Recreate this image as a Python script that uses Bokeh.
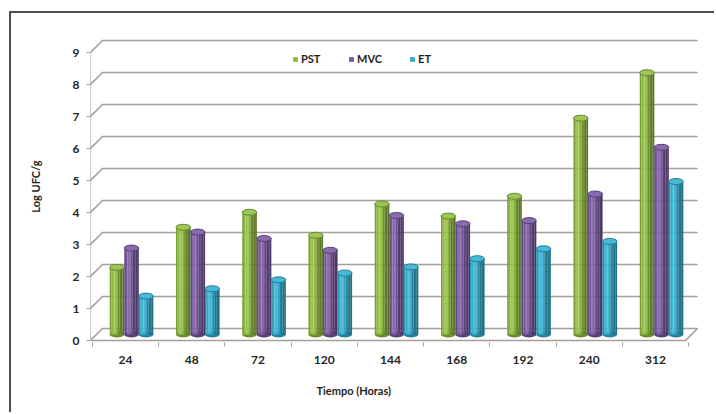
import math

from bokeh.plotting import figure
from bokeh.models import Range1d, FixedTicker, Legend, LegendItem, Title
from bokeh.embed import file_html
from bokeh.resources import INLINE

# ---- data -------------------------------------------------------------
categories = ["24", "48", "72", "120", "144", "168", "192", "240", "312"]
pst = [2.1, 3.35, 3.82, 3.1, 4.08, 3.7, 4.32, 6.76, 8.18]
mvc = [2.7, 3.2, 3.0, 2.63, 3.72, 3.46, 3.56, 4.39, 5.85]
et = [1.2, 1.43, 1.71, 1.92, 2.11, 2.37, 2.68, 2.91, 4.78]
series_names = ["PST", "MVC", "ET"]
y_ticks = [0, 1, 2, 3, 4, 5, 6, 7, 8, 9]

series_values = [pst, mvc, et]
series_rgb = [(148, 192, 66), (124, 91, 164), (52, 178, 212)]

FONT = "Lato"
GRID = "#a49f9b"

# ---- geometry of the pseudo-3D box (data units) ------------------------
PX_X = 66.25          # pixels per category step
PX_Y = 32.0           # pixels per log unit
DX = 12 / PX_X        # depth shift to the back wall, x
DY = 12 / PX_Y        # depth shift to the back wall, y
BAR_DX = DX / 2       # bars stand half-way into the box
BAR_DY = DY / 2
BAR_W = 14.5 / PX_X
ELL_H = 6 / PX_Y

n_cat = len(categories)
wall_x = -35 / PX_X               # front edge of the left wall
right_front = 560 / PX_X          # front right corner of the floor
right_back = right_front + DX


def shade(rgb, f):
    if f <= 1:
        return "#%02x%02x%02x" % tuple(int(c * f) for c in rgb)
    k = f - 1
    return "#%02x%02x%02x" % tuple(int(c + (255 - c) * k) for c in rgb)


p = figure(
    width=705, height=401,
    x_range=Range1d(-35 / PX_X, 581 / PX_X),
    y_range=Range1d(-2 / PX_Y, 310 / PX_Y),
    min_border_left=79, min_border_right=10,
    min_border_top=17, min_border_bottom=72,
    toolbar_location=None, output_backend="svg",
)
p.styles = {
    "margin-left": "9px", "margin-top": "11px",
    "border-left": "2px solid #4e4e4e", "border-top": "2px solid #4e4e4e",
}
p.background_fill_color = "white"
p.border_fill_color = "white"
p.outline_line_color = None
p.xgrid.visible = False
p.ygrid.visible = False

# ---- walls and floor ----------------------------------------------------
grid_xs = [[wall_x, wall_x + DX, right_back] for _ in y_ticks]
grid_ys = [[v, v + DY, v + DY] for v in y_ticks]
p.multi_line(grid_xs, grid_ys, line_color=GRID, line_width=1.6)
p.segment(x0=[wall_x], y0=[0], x1=[wall_x], y1=[max(y_ticks)],
          line_color=GRID, line_width=1.2)
p.line([wall_x, right_front, right_back], [0, 0, DY],
       line_color=GRID, line_width=1.6)

# ---- cylinders -----------------------------------------------------------
n_strip = 9
profile = []
for j in range(n_strip):
    t = (j + 0.5) / n_strip
    f = 0.72 + 0.42 * math.exp(-((t - 0.33) / 0.24) ** 2) - 0.1 * t
    profile.append(f)
swatch_strip = min(range(n_strip), key=lambda j: abs(profile[j] - 1.0))

legend_renderers = []
for k, (vals, rgb) in enumerate(zip(series_values, series_rgb)):
    centers = [i + BAR_DX + (k - 1) * BAR_W for i in range(n_cat)]
    tops = [v + BAR_DY for v in vals]
    # rounded base
    p.ellipse(x=centers, y=[BAR_DY] * n_cat, width=BAR_W, height=ELL_H,
              fill_color=shade(rgb, 0.74), line_color=None)
    # shaded body, one vertical strip at a time
    sw = BAR_W / n_strip
    for j, f in enumerate(profile):
        left = [c - BAR_W / 2 + j * sw for c in centers]
        r = p.quad(left=left, right=[l + sw * 1.06 for l in left],
                   top=tops, bottom=BAR_DY,
                   fill_color=shade(rgb, f), line_color=None)
        if j == swatch_strip:
            legend_renderers.append(r)
    # lid
    p.ellipse(x=centers, y=tops, width=BAR_W, height=ELL_H,
              fill_color=shade(rgb, 1.1), line_color=shade(rgb, 0.7),
              line_width=1)

# ---- axes ----------------------------------------------------------------
yax = p.yaxis[0]
yax.ticker = FixedTicker(ticks=y_ticks)
yax.axis_line_color = None
yax.major_tick_in = 0
yax.major_tick_out = 4
yax.major_tick_line_color = GRID
yax.minor_tick_line_color = None
yax.major_label_standoff = 7
yax.major_label_text_font = FONT
yax.major_label_text_font_style = "bold"
yax.major_label_text_font_size = "12px"
yax.major_label_text_color = "#262626"
yax.axis_label = "Log UFC/g"
yax.axis_label_text_font = FONT
yax.axis_label_text_font_style = "bold"
yax.axis_label_text_font_size = "11px"
yax.axis_label_text_color = "#1e1e1e"
yax.axis_label_standoff = 28

xax = p.xaxis[0]
xax.ticker = FixedTicker(ticks=list(range(n_cat)),
                         minor_ticks=[i - 0.5 for i in range(n_cat + 1)])
xax.major_label_overrides = {i: c for i, c in enumerate(categories)}
xax.axis_line_color = None
xax.major_tick_line_color = None
xax.major_tick_out = 0
xax.major_tick_in = 0
xax.minor_tick_in = 0
xax.minor_tick_out = 4
xax.minor_tick_line_color = GRID
xax.major_label_standoff = 9
xax.major_label_text_font = FONT
xax.major_label_text_font_style = "bold"
xax.major_label_text_font_size = "12px"
xax.major_label_text_color = "#262626"

p.add_layout(Title(text="Tiempo (Horas)", align="left", offset=226,
                   text_font=FONT, text_font_style="bold",
                   text_font_size="11px", text_color="#1e1e1e",
                   standoff=31), "below")

# ---- legend --------------------------------------------------------------
legend = Legend(
    items=[LegendItem(label=n, renderers=[r])
           for n, r in zip(series_names, legend_renderers)],
    orientation="horizontal", location=(202, 277),
    glyph_width=6, glyph_height=6, label_standoff=3, spacing=27,
    padding=0, margin=0, label_height=12,
    label_text_font=FONT, label_text_font_style="bold",
    label_text_font_size="11px", label_text_color="#1e1e1e",
    border_line_alpha=0, background_fill_alpha=0,
)
p.add_layout(legend)

open("out.html", "w").write(file_html(p, INLINE))
